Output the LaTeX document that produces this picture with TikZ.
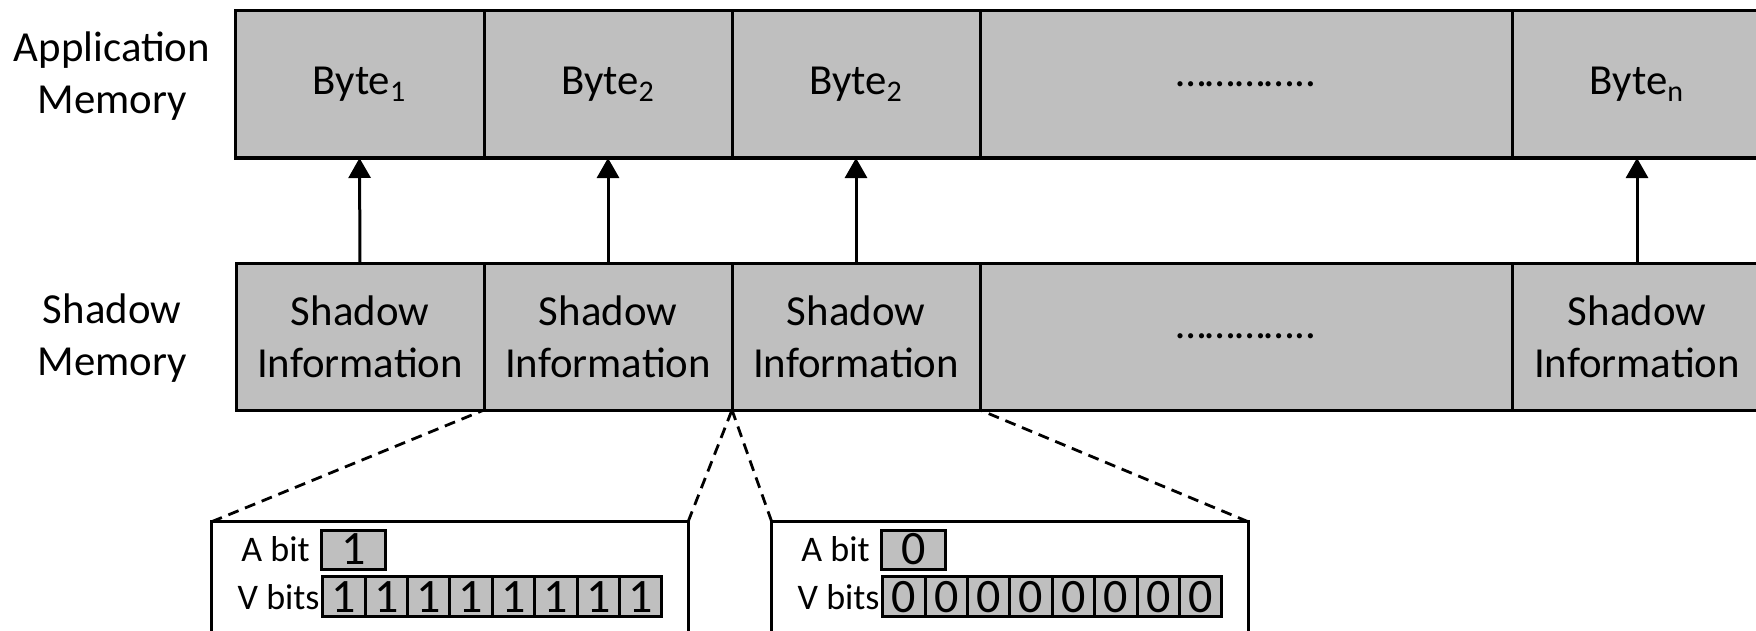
\documentclass[tikz,border=0pt]{standalone}
\usepackage{fontspec}
\setmainfont{Carlito}
\usetikzlibrary{arrows.meta}
\definecolor{cellgray}{HTML}{BFBFBF}
\tikzset{
  membox/.style={draw=black, line width=1.5pt, fill=cellgray, rectangle, inner sep=0pt, outer sep=0pt,
    minimum height=73.5pt, align=center, font=\fontsize{21.4}{26}\selectfont},
  detailbox/.style={draw=black, line width=1.5pt, fill=white, rectangle, inner sep=0pt, outer sep=0pt},
  bitcell/.style={draw=black, line width=1.5pt, fill=cellgray, rectangle, inner sep=0pt, outer sep=0pt,
    minimum width=21.2pt, minimum height=20pt, font=\fontsize{24}{26}\selectfont},
  abitcell/.style={bitcell, minimum width=31.7pt, minimum height=19.5pt},
  rowlabel/.style={align=center, inner sep=0pt, font=\fontsize{21.4}{26}\selectfont},
  bitlabel/.style={anchor=east, inner sep=0pt, font=\fontsize{18}{21}\selectfont},
  uparrow/.style={line width=1.5pt, -{Triangle[length=10pt,width=11pt]}},
  zoomline/.style={line width=1.4pt, dash pattern=on 5.5pt off 3.5pt},
}
\newcommand{\dotsrow}{\ldots\ldots\ldots\ldots..}
\begin{document}
\begin{tikzpicture}[x=0.5pt,y=-0.5pt]
\useasboundingbox (0,0) rectangle (1756,631);
\clip (0,0) rectangle (1756,631);
\fill[white] (0,0) rectangle (1756,631);

% row labels
\node[rowlabel] (lapp) at (112,76) {Application\\Memory};
\node[rowlabel] (lsh) at (112,338) {Shadow\\Memory};

% application memory
\node[membox, minimum width=124.5pt] (a1) at (359.5,84.5) {Byte\textsubscript{1}};
\node[membox, minimum width=124pt] (a2) at (608,84.5) {Byte\textsubscript{2}};
\node[membox, minimum width=124pt] (a3) at (856,84.5) {Byte\textsubscript{2}};
\node[membox, minimum width=266pt] (a4) at (1246,84.5) {\dotsrow};
\node[membox, minimum width=125pt] (a5) at (1637,84.5) {Byte\textsubscript{n}};

% shadow memory
\node[membox, minimum width=124pt] (s1) at (360,336.5) {Shadow\\Information};
\node[membox, minimum width=124pt] (s2) at (608,336.5) {Shadow\\Information};
\node[membox, minimum width=124pt] (s3) at (856,336.5) {Shadow\\Information};
\node[membox, minimum width=266pt] (s4) at (1246,336.5) {\dotsrow};
\node[membox, minimum width=125pt] (s5) at (1637,336.5) {Shadow\\Information};

% arrows
\draw[uparrow] (s1.north) -- (a1.south);
\draw[uparrow] (s2.north) -- (a2.south);
\draw[uparrow] (s3.north) -- (a3.south);
\draw[uparrow] (s5.north) -- (a5.south);

% detail boxes
\node[detailbox, minimum width=238.2pt, minimum height=70pt, anchor=north west] (d1) at (211.7,521.7) {};
\node[detailbox, minimum width=238.2pt, minimum height=70pt, anchor=north west] (d2) at (771.7,521.7) {};

\draw[zoomline] (d1.north west) -- (s1.south east);
\draw[zoomline] (d1.north east) -- (s2.south east);
\draw[zoomline] (d2.north west) -- (s3.south west);
\draw[zoomline] (d2.north east) -- (s3.south east);

% contents of left detail box
\node[bitlabel] (ab1) at (310,549.5) {A bit};
\node[abitcell] (ac1) at (353.4,549.5) {1};
\node[bitlabel] (vb1) at (320,596.7) {V bits};
\foreach \i in {0,...,7} {
  \node[bitcell] (vc1\i) at ({343.9+42.4*\i},596.7) {1};
}

% contents of right detail box
\node[bitlabel] (ab2) at (870,549.5) {A bit};
\node[abitcell] (ac2) at (913.4,549.5) {0};
\node[bitlabel] (vb2) at (880,596.7) {V bits};
\foreach \i in {0,...,7} {
  \node[bitcell] (vc2\i) at ({903.9+42.4*\i},596.7) {0};
}
\end{tikzpicture}
\end{document}
